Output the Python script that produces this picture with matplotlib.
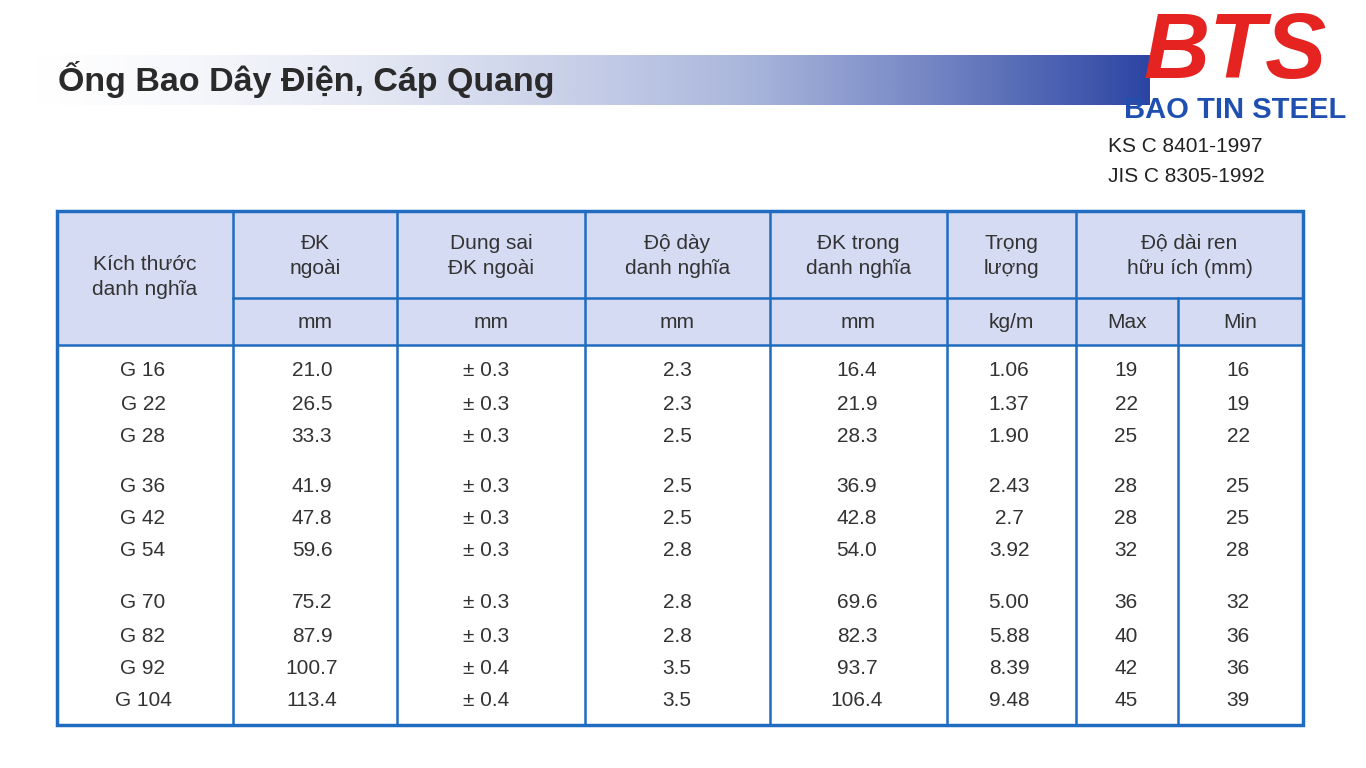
import numpy as np
import matplotlib
matplotlib.use("Agg")
import matplotlib.pyplot as plt
from matplotlib.patches import Rectangle
from matplotlib.colors import LinearSegmentedColormap

sizes = ["G 16","G 22","G 28","G 36","G 42","G 54","G 70","G 82","G 92","G 104"]
od = ["21.0","26.5","33.3","41.9","47.8","59.6","75.2","87.9","100.7","113.4"]
tol = ["± 0.3"]*8 + ["± 0.4"]*2
thick = ["2.3","2.3","2.5","2.5","2.5","2.8","2.8","2.8","3.5","3.5"]
idia = ["16.4","21.9","28.3","36.9","42.8","54.0","69.6","82.3","93.7","106.4"]
weight = ["1.06","1.37","1.90","2.43","2.7","3.92","5.00","5.88","8.39","9.48"]
tmax = ["19","22","25","28","28","32","36","40","42","45"]
tmin = ["16","19","22","25","25","28","32","36","36","39"]
headers = ["Kích thước\ndanh nghĩa","ĐK\nngoài","Dung sai\nĐK ngoài","Độ dày\ndanh nghĩa","ĐK trong\ndanh nghĩa","Trọng\nlượng","Độ dài ren\nhữu ích (mm)"]
units = ["mm","mm","mm","mm","kg/m","Max","Min"]

plt.rcParams["font.family"] = "Liberation Sans"
fig = plt.figure(figsize=(13.66,7.68), dpi=100)
ax = fig.add_axes([0,0,1,1]); ax.set_xlim(0,1366); ax.set_ylim(768,0); ax.axis("off")

grad = np.linspace(0,1,400)[None,:]**1.6
cm = LinearSegmentedColormap.from_list("g", ["#ffffff","#aab6dc","#2c45a3"])
ax.imshow(grad, cmap=cm, extent=[0,1150,105,55], aspect="auto", zorder=0)
ax.text(58,80,"Ống Bao Dây Điện, Cáp Quang", fontsize=24.5, fontweight="bold", color="#2a2a2a", va="center")
ax.text(1235,54,"BTS", fontsize=66, fontweight="bold", style="italic", color="#e52421", ha="center", va="center")
ax.text(1235,110,"BAO TIN STEEL", fontsize=21, fontweight="bold", color="#1f4fb0", ha="center", va="center")
ax.text(1108,147,"KS C 8401-1997", fontsize=15, color="#222", va="center")
ax.text(1108,176,"JIS C 8305-1992", fontsize=15, color="#222", va="center")

cols = [57,233,397,585,770,947,1076,1178,1303]
top, mid, hb, bot = 211,298,345,725
blue = "#1f6cc0"
ax.add_patch(Rectangle((57,top),1303-57,hb-top, fc="#d5dbf3", ec="none"))
ax.add_patch(Rectangle((57,top),1303-57,bot-top, fc="none", ec=blue, lw=2.5))
for x in cols[1:-1]:
    y0 = mid if x == 1178 else top
    ax.plot([x,x],[y0,bot], color=blue, lw=1.8)
ax.plot([233,1303],[mid,mid], color=blue, lw=1.8)
ax.plot([57,1303],[hb,hb], color=blue, lw=1.8)
fs = 15
ax.text((57+233)/2, 277, headers[0], ha="center", va="center", fontsize=fs, color="#333", linespacing=1.4)
for i,h in enumerate(headers[1:]):
    x0, x1 = cols[i+1], (cols[i+2] if i < 5 else cols[8])
    ax.text((x0+x1)/2, 256, h, ha="center", va="center", fontsize=fs, color="#333", linespacing=1.4)
for i,u in enumerate(units):
    ax.text((cols[i+1]+cols[i+2])/2, 323, u, ha="center", va="center", fontsize=fs, color="#333")
rowy = [371,404,437,487,519,551,603,636,668,700]
data = [sizes,od,tol,thick,idia,weight,tmax,tmin]
cx = [143,312,486,677,857,1009,1126,1238]
for c,vals in enumerate(data):
    for y,v in zip(rowy, vals):
        ax.text(cx[c], y, v, ha="center", va="center", fontsize=fs, color="#333")
fig.savefig("out.png", dpi=100)
